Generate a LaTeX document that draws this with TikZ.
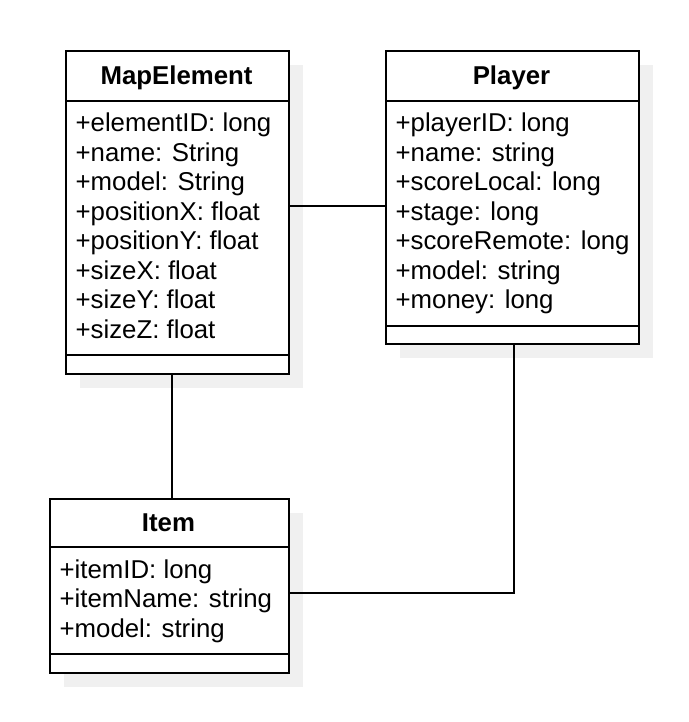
\documentclass[tikz,border=0pt]{standalone}
\usepackage{fontspec}
\setmainfont{Liberation Sans}
\usetikzlibrary{shadows}
\tikzset{
  classbox/.style={draw, line width=2.4pt, fill=white, inner sep=0pt, anchor=north west,
    drop shadow={shadow xshift=14pt, shadow yshift=-14pt, fill=black!6, opacity=1}},
  divider/.style={line width=2.4pt},
  classtitle/.style={font=\bfseries\fontsize{25.8}{29.5}\selectfont, inner sep=0pt, anchor=base},
  attr/.style={font=\fontsize{25.8}{29.5}\selectfont, inner sep=0pt, anchor=base west},
  link/.style={line width=2pt},
}
\begin{document}
\begin{tikzpicture}[x=1pt,y=-1pt]
\useasboundingbox[fill=white] (0,0) rectangle (688,722);

% MapElement
\node[classbox, minimum width=223pt, minimum height=323pt] (me) at (65,50) {};
\draw[divider] (me.west |- 0,101) -- (me.east |- 0,101);
\draw[divider] (me.west |- 0,355) -- (me.east |- 0,355);
\node[classtitle] (metitle) at (176.5,84.8) {MapElement};
\foreach \t [count=\i from 0] in {{+elementID: long},{+name: String},{+model: String},{+positionX: float},{+positionY: float},{+sizeX: float},{+sizeY: float},{+sizeZ: float}}
  \node[attr] (mea\i) at (75.4,131.7+29.5*\i) {\t};

% Player
\node[classbox, minimum width=253pt, minimum height=293pt] (pl) at (385,50) {};
\draw[divider] (pl.west |- 0,101) -- (pl.east |- 0,101);
\draw[divider] (pl.west |- 0,326) -- (pl.east |- 0,326);
\node[classtitle] (pltitle) at (511.5,84.8) {Player};
\foreach \t [count=\i from 0] in {{+playerID: long},{+name: string},{+scoreLocal: long},{+stage: long},{+scoreRemote: long},{+model: string},{+money: long}}
  \node[attr] (pla\i) at (395.4,131.7+29.5*\i) {\t};

% Item
\node[classbox, minimum width=239pt, minimum height=174pt] (it) at (49,498) {};
\draw[divider] (it.west |- 0,547) -- (it.east |- 0,547);
\draw[divider] (it.west |- 0,654) -- (it.east |- 0,654);
\node[classtitle] (ittitle) at (168.5,531.8) {Item};
\foreach \t [count=\i from 0] in {{+itemID: long},{+itemName: string},{+model: string}}
  \node[attr] (ita\i) at (59.4,578+29.5*\i) {\t};

% connectors
\draw[link] (me.east |- 0,206) -- (pl.west |- 0,206);
\draw[link] (me.south -| 172,0) -- (it.north -| 172,0);
\draw[link] (pl.south -| 514,0) |- (it.east |- 0,593);
\end{tikzpicture}
\end{document}
